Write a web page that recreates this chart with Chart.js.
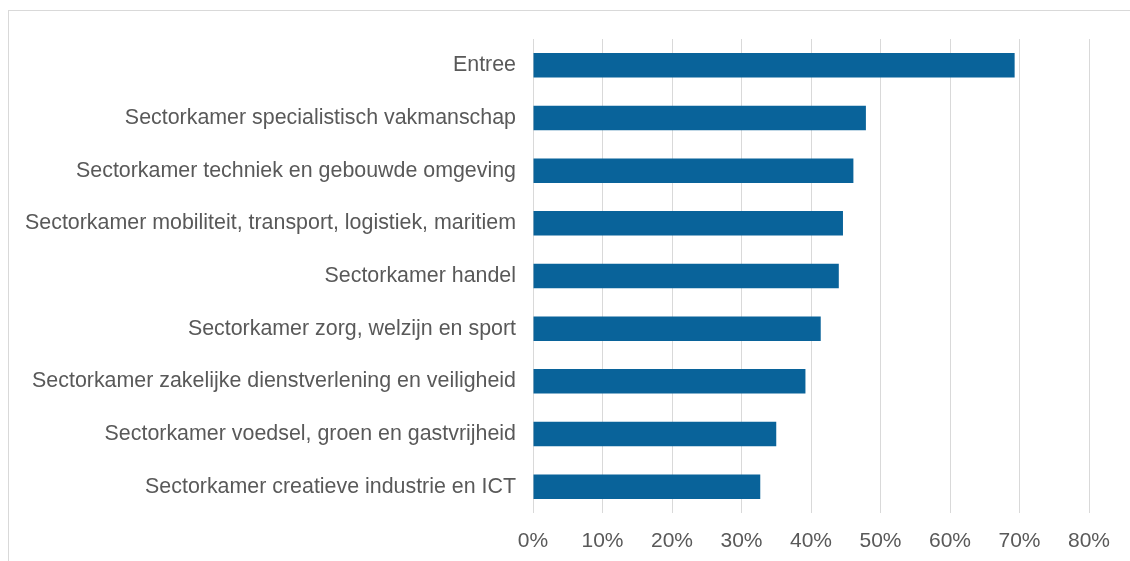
<!DOCTYPE html>
<html>
<head>
<meta charset="utf-8">
<script src="https://cdn.jsdelivr.net/npm/chart.js@4.4.1/dist/chart.umd.min.js"></script>
<style>
  body { margin: 0; background: #fff; }
  #wrap { position: relative; width: 1130px; height: 561px; overflow: hidden; }
  #frame { position: absolute; left: 8px; top: 10px; width: 1200px; height: 600px; border: 1px solid #d9d9d9; box-sizing: border-box; }
  #chart { position: absolute; left: 0; top: 0; }
</style>
</head>
<body>
<div id="wrap">
  <div id="frame"></div>
  <canvas id="chart" width="1130" height="561"></canvas>
</div>
<script>
const categories = [
    'Entree',
    'Sectorkamer specialistisch vakmanschap',
    'Sectorkamer techniek en gebouwde omgeving',
    'Sectorkamer mobiliteit, transport, logistiek, maritiem',
    'Sectorkamer handel',
    'Sectorkamer zorg, welzijn en sport',
    'Sectorkamer zakelijke dienstverlening en veiligheid',
    'Sectorkamer voedsel, groen en gastvrijheid',
    'Sectorkamer creatieve industrie en ICT'
];
const shares = [69.3, 47.9, 46.1, 44.6, 44.0, 41.4, 39.2, 35.0, 32.7];
const tickValues = [0, 10, 20, 30, 40, 50, 60, 70, 80];

const textColor = '#595959';
const gridColor = '#d9d9d9';
const barColor = '#09639a';

const ctx = document.getElementById('chart').getContext('2d');
const sectorChart = new Chart(ctx, {
    type: 'bar',
    data: {
        labels: categories,
        datasets: [{
            data: shares,
            backgroundColor: barColor,
            borderWidth: 0,
            barPercentage: 0.465,
            categoryPercentage: 1
        }]
    },
    options: {
        indexAxis: 'y',
        responsive: false,
        animation: false,
        layout: {
            padding: { top: 39, right: 41, bottom: 0, left: 0 }
        },
        plugins: {
            legend: { display: false },
            tooltip: { enabled: false }
        },
        scales: {
            x: {
                min: tickValues[0],
                max: tickValues[tickValues.length - 1],
                afterBuildTicks: (axis) => {
                    axis.ticks = tickValues.map(v => ({ value: v }));
                },
                afterFit: (axis) => { axis.height = 48; },
                grid: { color: gridColor, lineWidth: 1, drawTicks: false },
                border: { display: false },
                ticks: {
                    padding: 16,
                    color: textColor,
                    font: { family: 'Liberation Sans', size: 21 },
                    callback: (v) => v + '%'
                }
            },
            y: {
                afterFit: (axis) => { axis.width = 533; },
                grid: { display: false, drawTicks: false },
                border: { display: false },
                ticks: {
                    padding: 17,
                    color: textColor,
                    font: { family: 'Liberation Sans', size: 21.4 }
                }
            }
        }
    }
});
</script>
</body>
</html>
